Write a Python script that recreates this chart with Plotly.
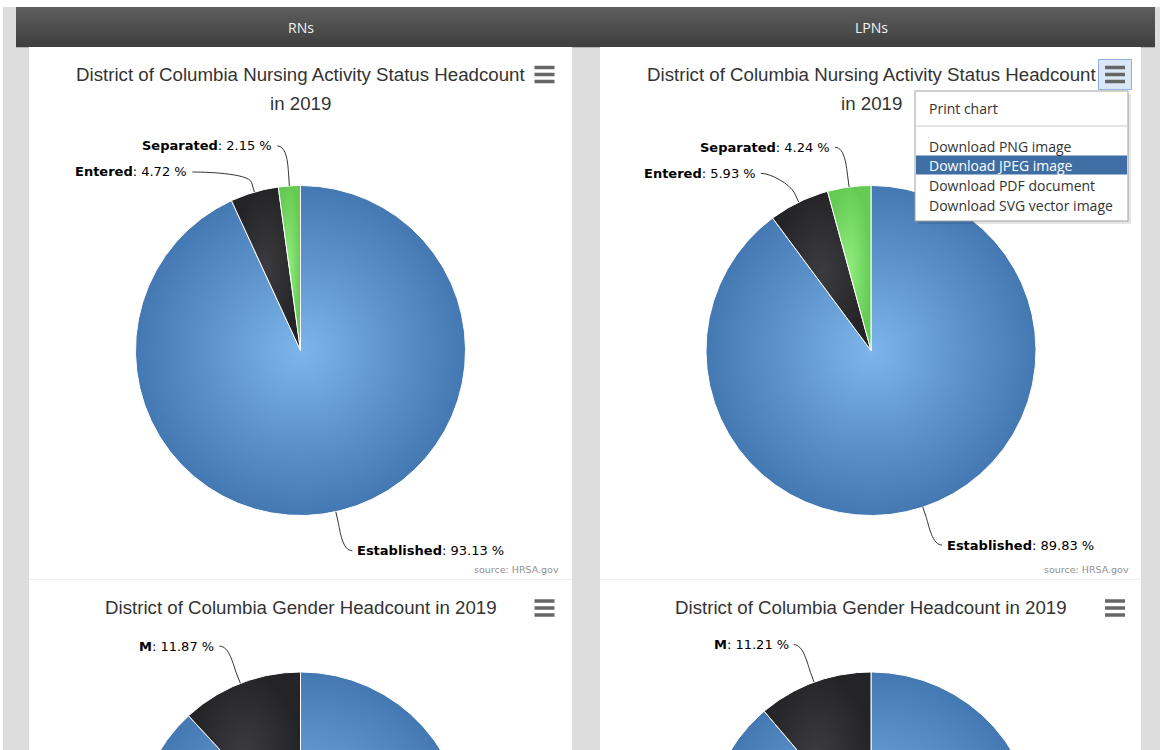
import numpy as np
import plotly.graph_objects as go

W, H = 1165, 750

# ---------------- data ----------------
column_titles = ["RNs", "LPNs"]
status_labels = ["Established", "Entered", "Separated"]
rn_status_pct = [93.13, 4.72, 2.15]
lpn_status_pct = [89.83, 5.93, 4.24]
gender_labels = ["F", "M"]
rn_gender_pct = [88.13, 11.87]
lpn_gender_pct = [88.79, 11.21]
status_title_lines = ["District of Columbia Nursing Activity Status Headcount", "in 2019"]
gender_title = "District of Columbia Gender Headcount in 2019"
credit_text = "source: HRSA.gov"
menu_items = ["Print chart", "Download PNG image", "Download JPEG image",
              "Download PDF document", "Download SVG vector image"]

# ---------------- styles ----------------
SLICE_GRADIENTS = [
    [[0, "#7cb5ec"], [1, "#4478b2"]],   # blue
    [[0, "#3c3c40"], [1, "#242427"]],   # dark
    [[0, "#90ed7d"], [1, "#66cb55"]],   # green
]
LABEL_FONT = dict(family="DejaVu Sans", size=13, color="#000000")
TITLE_FONT = dict(family="Liberation Sans, Arial", size=18.7, color="#333333")
MENU_FONT = dict(family="Open Sans", size=14, color="#333333")
LABEL_DIST = 30       # data label distance from pie edge
LABEL_H = 26          # minimal vertical spacing between labels

fig = go.Figure()
shapes = []
annotations = []


def rect(x0, y0, x1, y1, fill, line=None, lw=0, layer="below"):
    d = dict(type="rect", xref="x", yref="y", x0=x0, y0=y0, x1=x1, y1=y1,
             fillcolor=fill, layer=layer, line=dict(width=lw, color=line or fill))
    shapes.append(d)


# page background
rect(3, 7, 1160, H, "#dddddd")
# header bar with vertical gradient (bands)
top_c = np.array([0x5e, 0x5e, 0x5e])
bot_c = np.array([0x3f, 0x3f, 0x3f])
n_bands = 20
y_top, y_bot = 7, 47
for k in range(n_bands):
    t = k / (n_bands - 1)
    c = (top_c * (1 - t) + bot_c * t).astype(int)
    rect(16, y_top + (y_bot - y_top) * k / n_bands, 1155,
         y_top + (y_bot - y_top) * (k + 1) / n_bands + 0.3,
         "rgb(%d,%d,%d)" % tuple(c))
# white panels
panels = [(29, 572), (600, 1141)]
for (px0, px1) in panels:
    rect(px0, 47, px1, H, "#ffffff")
    shapes.append(dict(type="line", xref="x", yref="y", x0=px0, x1=px1, y0=579.5, y1=579.5,
                       line=dict(color="#f0f0f0", width=1), layer="below"))

col_centers = [300.5, 871.0]
for cxh, t in zip(col_centers, column_titles):
    annotations.append(dict(x=cxh, y=27, xref="x", yref="y", text=t, showarrow=False,
                            font=dict(family="Open Sans", size=14, color="#f2f2f2"),
                            xanchor="center", yanchor="middle"))


def hamburger(xc, yc, highlighted=False):
    if highlighted:
        shapes.append(dict(type="rect", xref="x", yref="y", x0=xc - 16.5, x1=xc + 16.5,
                           y0=yc - 15, y1=yc + 15, fillcolor="#dbe6f6",
                           line=dict(color="#8fb0e0", width=1), layer="above"))
    for dy in (-7, 0, 7):
        shapes.append(dict(type="line", xref="x", yref="y", x0=xc - 10, x1=xc + 10,
                           y0=yc + dy, y1=yc + dy,
                           line=dict(color="#666666", width=3.5), layer="above"))


def push_down(items, key):
    for side in (-1, 1):
        group = sorted([d for d in items if d["side"] == side], key=lambda d: d[key])
        for j in range(1, len(group)):
            group[j][key] = max(group[j][key], group[j - 1][key] + LABEL_H)


def pie(cx, cy, r, values, labels):
    total = float(sum(values))
    start = 0.0
    lab_info = []
    for i, (v, lab) in enumerate(zip(values, labels)):
        a0 = start / total * 2 * np.pi
        a1 = (start + v) / total * 2 * np.pi
        start += v
        n = max(int(np.degrees(a1 - a0) * 2), 4)
        th = np.linspace(a0, a1, n)
        xs = np.concatenate([[cx], cx + r * np.sin(th), [cx]])
        ys = np.concatenate([[cy], cy - r * np.cos(th), [cy]])
        fig.add_trace(go.Scatter(
            x=xs, y=ys, mode="lines", fill="toself",
            fillgradient=dict(type="radial", colorscale=SLICE_GRADIENTS[i % 3]),
            line=dict(color="#ffffff", width=1), hoverinfo="skip", showlegend=False))
        mid = (a0 + a1) / 2
        s, c = np.sin(mid), np.cos(mid)
        lab_info.append(dict(
            text="<b>%s</b>: %.2f %%" % (lab, v),
            side=1 if s >= 0 else -1,
            ex=cx + r * s, ey=cy - r * c,
            px=cx + (r + 10) * s, py=cy - (r + 10) * c,
            yx=cy - (r + LABEL_DIST) * c,          # used for horizontal placement
            y=cy - (r + LABEL_DIST + 10) * c))     # drawn label centre
    push_down(lab_info, "yx")
    push_down(lab_info, "y")
    R = r + LABEL_DIST
    for d in lab_info:
        if d["y"] > H + 20:
            continue
        dy = d["yx"] - cy
        gx = cx + d["side"] * np.sqrt(max(R ** 2 - dy ** 2, 0))   # connector knee
        xt = gx + d["side"] * 14                                    # text edge
        mx = xt - d["side"] * 4
        c2x, c2y = 2 * d["px"] - d["ex"], 2 * d["py"] - d["ey"]
        path = "M %.1f,%.1f C %.1f,%.1f %.1f,%.1f %.1f,%.1f L %.1f,%.1f" % (
            mx, d["y"], gx, d["y"], c2x, c2y, d["px"], d["py"], d["ex"], d["ey"])
        shapes.append(dict(type="path", xref="x", yref="y", path=path,
                           line=dict(color="#333333", width=1), layer="above"))
        annotations.append(dict(x=xt, y=d["y"], xref="x", yref="y", text=d["text"],
                                showarrow=False, font=LABEL_FONT,
                                xanchor="right" if d["side"] < 0 else "left",
                                yanchor="middle", borderpad=0))


R_PIE = 165
status_sets = [rn_status_pct, lpn_status_pct]
gender_sets = [rn_gender_pct, lpn_gender_pct]
credit_right = [561, 1131]
for k, cxp in enumerate(col_centers):
    # status chart
    pie(cxp, 350.5, R_PIE, status_sets[k], status_labels)
    annotations.append(dict(x=cxp, y=74, xref="x", yref="y", text=status_title_lines[0],
                            showarrow=False, font=TITLE_FONT, xanchor="center", yanchor="middle"))
    annotations.append(dict(x=cxp, y=103, xref="x", yref="y", text=status_title_lines[1],
                            showarrow=False, font=TITLE_FONT, xanchor="center", yanchor="middle"))
    annotations.append(dict(x=credit_right[k], y=569, xref="x", yref="y", text=credit_text,
                            showarrow=False, xanchor="right", yanchor="middle",
                            font=dict(family="DejaVu Sans", size=9.5, color="#909090")))
    hamburger(cxp + 244, 74.5, highlighted=(k == 1))
    # gender chart
    pie(cxp, 837, R_PIE, gender_sets[k], gender_labels)
    annotations.append(dict(x=cxp, y=607, xref="x", yref="y", text=gender_title,
                            showarrow=False, font=TITLE_FONT, xanchor="center", yanchor="middle"))
    hamburger(cxp + 244, 608)

# export context menu (open on the LPN status chart)
mx0, mx1, my0, my1 = 915, 1128, 91, 221
shapes.append(dict(type="rect", xref="x", yref="y", x0=mx0 + 3, x1=mx1 + 3, y0=my0 + 3, y1=my1 + 3,
                   fillcolor="rgba(0,0,0,0.10)", line=dict(width=0), layer="above"))
shapes.append(dict(type="rect", xref="x", yref="y", x0=mx0, x1=mx1, y0=my0, y1=my1,
                   fillcolor="#ffffff", line=dict(color="#a0a0a0", width=1), layer="above"))
shapes.append(dict(type="line", xref="x", yref="y", x0=mx0 + 1, x1=mx1 - 1, y0=126, y1=126,
                   line=dict(color="#c8c8c8", width=1), layer="above"))
shapes.append(dict(type="rect", xref="x", yref="y", x0=mx0 + 1, x1=mx1 - 1, y0=155.5, y1=174.5,
                   fillcolor="#3f6ea4", line=dict(width=0), layer="above"))
menu_y = [108, 146, 165, 185, 205]
for item, yy in zip(menu_items, menu_y):
    f = dict(MENU_FONT)
    if "JPEG" in item:
        f["color"] = "#ffffff"
    annotations.append(dict(x=927, y=yy, xref="x", yref="y", text=item, showarrow=False,
                            xanchor="left", yanchor="middle", font=f))

fig.update_layout(
    width=W, height=H, margin=dict(l=0, r=0, t=0, b=0),
    paper_bgcolor="#ffffff", plot_bgcolor="rgba(0,0,0,0)",
    xaxis=dict(range=[0, W], visible=False, fixedrange=True),
    yaxis=dict(range=[H, 0], visible=False, fixedrange=True),
    shapes=shapes, annotations=annotations, showlegend=False,
)
fig.write_html("out.html", config={"displayModeBar": False},
               post_script="document.body.style.margin='0';document.body.style.overflow='hidden';")
